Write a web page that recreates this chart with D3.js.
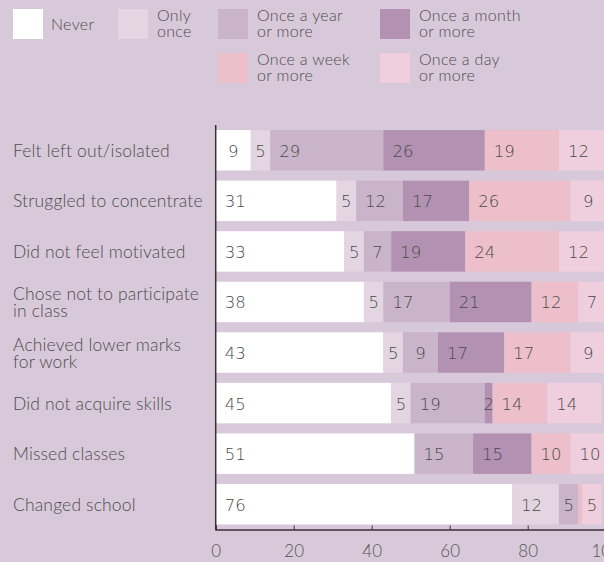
<!DOCTYPE html>
<html>
<head>
<meta charset="utf-8">
<script src="https://cdn.jsdelivr.net/npm/d3@7"></script>
<style>
  html, body { margin: 0; padding: 0; background: #d8c9da; }
  svg { display: block; }
</style>
</head>
<body>
<div id="chart"></div>
<script>
'use strict';

// categorias (de cima para baixo)
var categories = [
    ['Felt left out/isolated'],
    ['Struggled to concentrate'],
    ['Did not feel motivated'],
    ['Chose not to participate', 'in class'],
    ['Achieved lower marks', 'for work'],
    ['Did not acquire skills'],
    ['Missed classes'],
    ['Changed school']
];

// séries (legenda)
var seriesNames = [
    ['Never'],
    ['Only', 'once'],
    ['Once a year', 'or more'],
    ['Once a month', 'or more'],
    ['Once a week', 'or more'],
    ['Once a day', 'or more']
];

// valores por série, uma entrada por categoria
var never       = [ 9, 31, 33, 38, 43, 45, 51, 76];
var onlyOnce    = [ 5,  5,  5,  5,  5,  5,  0, 12];
var oncePerYear = [29, 12,  7, 17,  9, 19, 15,  5];
var oncePerMon  = [26, 17, 19, 21, 17,  2, 15,  0];
var oncePerWeek = [19, 26, 24, 12, 17, 14, 10,  1];
var oncePerDay  = [12,  9, 12,  7,  9, 14, 10,  5];

var xTicks = [0, 20, 40, 60, 80, 100];

var colors = ['#ffffff', '#e3d5e2', '#c9b4c9', '#b291b2', '#ecbfca', '#efcedd'];

var W = 604, H = 562;
var seriesValues = [never, onlyOnce, oncePerYear, oncePerMon, oncePerWeek, oncePerDay];

var svg = d3.select('#chart').append('svg')
    .attr('width', W)
    .attr('height', H);

svg.append('rect').attr('width', W).attr('height', H).attr('fill', '#d8c9da');

var x = d3.scaleLinear().domain([0, 100]).range([215.7, 605.7]);
var y = d3.scaleBand().domain(d3.range(categories.length)).range([125, 529.5])
    .paddingInner(0.2).paddingOuter(0.1);

// empilhando
var rows = categories.map(function(c, i) {
    var acc = 0;
    return seriesValues.map(function(s, k) {
        var seg = {row: i, k: k, v: s[i], x0: acc, x1: acc + s[i]};
        acc += s[i];
        return seg;
    });
});
var segs = [].concat.apply([], rows).filter(function(d) { return d.v > 0; });

var bars = svg.append('g');
bars.selectAll('rect')
    .data(segs)
    .enter()
    .append('rect')
    .attr('x', function(d) { return x(d.x0); })
    .attr('width', function(d) { return x(d.x1) - x(d.x0); })
    .attr('y', function(d) { return y(d.row); })
    .attr('height', y.bandwidth())
    .attr('fill', function(d) { return colors[d.k]; });

// rótulos dos valores
bars.selectAll('text')
    .data(segs.filter(function(d) { return d.v >= 2; }))
    .enter()
    .append('text')
    .attr('x', function(d) {
        var w = x(d.x1) - x(d.x0);
        return w < 40 ? (x(d.x0) + x(d.x1)) / 2 : x(d.x0) + 9;
    })
    .attr('text-anchor', function(d) { return (x(d.x1) - x(d.x0)) < 40 ? 'middle' : 'start'; })
    .attr('y', function(d) { return y(d.row) + y.bandwidth() / 2 + 6.5; })
    .style('font-family', 'DejaVu Sans')
    .style('font-size', '16.5px')
    .style('font-weight', 300)
    .style('fill', '#4a4a4a')
    .text(function(d) { return d.v; });

// categorias
var cat = svg.append('g').selectAll('text')
    .data(categories)
    .enter()
    .append('text')
    .style('font-family', 'Lato')
    .style('font-size', '17.5px')
    .style('font-weight', 300)
    .style('letter-spacing', '0.15px')
    .style('fill', '#4d4d4d')
    .attr('y', function(d, i) { return y(i) + y.bandwidth() / 2 + 6.5 - (d.length - 1) * 8; });
cat.selectAll('tspan')
    .data(function(d) { return d; })
    .enter()
    .append('tspan')
    .attr('x', 13)
    .attr('dy', function(d, j) { return j === 0 ? 0 : 16.5; })
    .text(function(d) { return d; });

// eixo x
var xAxis = svg.append('g')
    .attr('transform', 'translate(0,' + 529.5 + ')')
    .call(d3.axisBottom(x).tickValues(xTicks).tickSize(-4).tickPadding(15.5));
xAxis.select('.domain').attr('stroke', '#3a3038').attr('stroke-width', 1.5);
xAxis.selectAll('.tick line').attr('stroke', '#3a3038');
xAxis.selectAll('.tick text')
    .attr('dy', '0.71em')
    .style('font-family', 'Lato')
    .style('font-size', '17px')
    .style('font-weight', 300)
    .style('fill', '#555');

// linha do eixo y
svg.append('line')
    .attr('x1', x(0)).attr('x2', x(0))
    .attr('y1', 125).attr('y2', 530)
    .attr('stroke', '#3a3038').attr('stroke-width', 1.5);

// legenda
var legPos = [[13, 9], [118, 9], [218, 9], [380, 9], [218, 53], [380, 53]];
var leg = svg.append('g').selectAll('g')
    .data(seriesNames)
    .enter()
    .append('g')
    .attr('transform', function(d, i) { return 'translate(' + legPos[i][0] + ',' + legPos[i][1] + ')'; });
leg.append('rect')
    .attr('width', 30).attr('height', 30)
    .attr('fill', function(d, i) { return colors[i]; });
var lt = leg.append('text')
    .style('font-family', 'Lato')
    .style('font-size', '16px')
    .style('font-weight', 300)
    .style('letter-spacing', '0.3px')
    .style('fill', '#4d4d4d')
    .attr('y', function(d) { return d.length === 1 ? 21 : 11.5; });
lt.selectAll('tspan')
    .data(function(d) { return d; })
    .enter()
    .append('tspan')
    .attr('x', function(d) { return d === 'Never' ? 38 : 39; })
    .attr('dy', function(d, j) { return j === 0 ? 0 : 16.5; })
    .text(function(d) { return d; });
</script>
</body>
</html>
